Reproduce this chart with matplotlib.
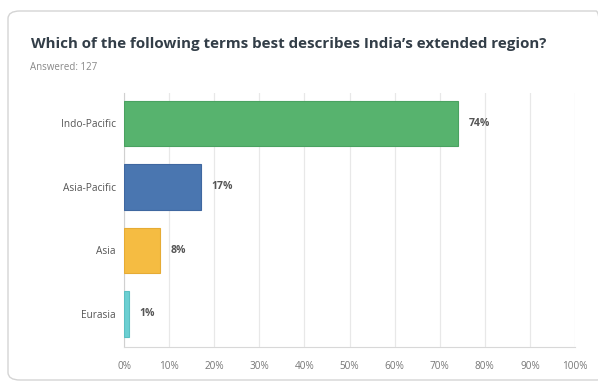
import matplotlib.pyplot as plt
from matplotlib.patches import FancyBboxPatch

# survey answers
choices = ['Indo-Pacific', 'Asia-Pacific', 'Asia', 'Eurasia']
shares = [74, 17, 8, 1]
colors = ['#57b36e', '#4a76b0', '#f5bc42', '#6ccfd2']
edges = ['#4aa261', '#3f67a0', '#e6ab34', '#5bbfc2']
ticks = list(range(0, 101, 10))

plt.rcParams['font.family'] = ['Open Sans', 'DejaVu Sans']

fig = plt.figure(figsize=(5.98, 3.82), dpi=100)
fig.patch.set_facecolor('white')

# card border
card = FancyBboxPatch((8 / 598, 1 - 380 / 382), 600 / 598, 369 / 382,
                      boxstyle='round,pad=0,rounding_size=0.02',
                      transform=fig.transFigure, facecolor='none',
                      edgecolor='#d4d4d4', linewidth=1.0)
fig.patches.append(card)

fig.text(31 / 598, 1 - 44 / 382,
         "Which of the following terms best describes India\u2019s extended region?",
         fontsize=10.9, fontweight='bold', color='#333e48', va='center')
fig.text(30 / 598, 1 - 67 / 382, 'Answered: 127', fontsize=7, color='#888888',
         va='center')

ax = fig.add_axes([124 / 598, 35 / 382, 451 / 598, 254 / 382])
ypos = list(range(len(choices)))
ax.barh(ypos, shares, height=0.72, color=colors, edgecolor=edges,
        linewidth=0.8, zorder=3)

for y, v in zip(ypos, shares):
    ax.text(v + 2.4, y, f'{v}%', va='center', ha='left', fontsize=7.5,
            fontweight='bold', color='#555555')

ax.set_xlim(0, 100)
ax.set_ylim(3.52, -0.48)
ax.set_xticks(ticks)
ax.set_xticklabels([f'{t}%' for t in ticks], fontsize=7.2, color='#777777')
ax.set_yticks(ypos)
ax.set_yticklabels(choices, fontsize=7.3, color='#555555')
ax.tick_params(axis='both', length=0, pad=6)
ax.tick_params(axis='x', pad=10)

ax.grid(axis='x', color='#e8e8e8', linewidth=0.9, zorder=0)
for side in ['top', 'right']:
    ax.spines[side].set_visible(False)
ax.spines['left'].set_color('#d0d0d0')
ax.spines['bottom'].set_color('#d8d8d8')

plt.savefig('out.png', dpi=100)
